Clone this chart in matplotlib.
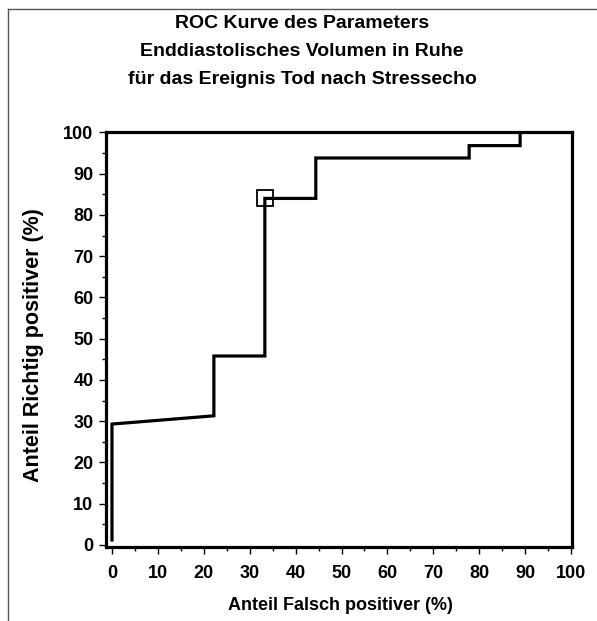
import matplotlib
matplotlib.use("Agg")
import matplotlib.pyplot as plt
from matplotlib.ticker import MultipleLocator
from matplotlib.lines import Line2D

# Data
fpr = [0, 0, 22.2, 22.2, 33.3, 33.3, 44.4, 44.4, 77.8, 77.8, 88.9, 88.9, 100]
tpr = [1.2, 29.3, 31.3, 45.8, 45.8, 84.0, 84.0, 93.8, 93.8, 96.8, 96.8, 100, 100]
marker_x = [33.3]
marker_y = [84.0]
ticks = list(range(0, 101, 10))

title_lines = ["ROC Kurve des Parameters",
               "Enddiastolisches Volumen in Ruhe",
               "für das Ereignis Tod nach Stressecho"]
xlabel = "Anteil Falsch positiver (%)"
ylabel = "Anteil Richtig positiver (%)"

plt.rcParams['font.family'] = ['Liberation Sans', 'DejaVu Sans']
plt.rcParams['font.weight'] = 'bold'

W, H = 597, 621
fig = plt.figure(figsize=(W / 100, H / 100), dpi=100)

# gray frame around figure (top and left)
fig.add_artist(Line2D([8 / W, 1.0], [1 - 9 / H, 1 - 9 / H], color="#555555", lw=1.0))
fig.add_artist(Line2D([8 / W, 8 / W], [0, 1 - 9 / H], color="#555555", lw=1.0))

left, right, top, bottom = 106, 572, 132, 547
ax = fig.add_axes([left / W, 1 - bottom / H, (right - left) / W, (bottom - top) / H])

ax.plot(fpr, tpr, color="black", lw=2.3, solid_joinstyle="miter")
ax.plot(marker_x, marker_y, marker="s", ms=11.5, mfc="none", mec="black", mew=1.3, ls="none")

ax.set_xlim(-1.3, 100.2)
ax.set_ylim(-0.5, 100.1)
ax.set_xticks(ticks)
ax.set_yticks(ticks)
ax.xaxis.set_minor_locator(MultipleLocator(5))
ax.yaxis.set_minor_locator(MultipleLocator(5))
for s in ax.spines.values():
    s.set_linewidth(2.3)
ax.tick_params(which="major", length=5, width=1.0, labelsize=13, pad=4)
ax.tick_params(which="minor", length=3, width=1.0)
ax.tick_params(axis="x", which="major", pad=8)

aw, ah = right - left, bottom - top
xl = ax.set_xlabel(xlabel, fontsize=13, fontweight="bold")
xl.set_va("center")
ax.xaxis.set_label_coords((340 - left) / aw, (bottom - 606) / ah)
yl = ax.set_ylabel(ylabel, fontsize=15.5, fontweight="bold")
yl.set_va("center")
ax.yaxis.set_label_coords((34 - left) / aw, (bottom - 345) / ah)

for i, y in enumerate([23, 51, 79]):
    fig.text(302 / W, 1 - y / H, title_lines[i], ha="center", va="center",
             fontsize=14, fontweight="bold")

fig.savefig("out.png", dpi=100)
